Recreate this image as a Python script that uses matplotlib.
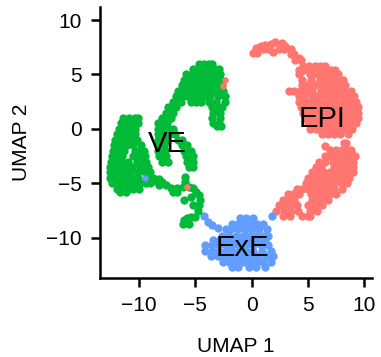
import numpy as np
import matplotlib
matplotlib.use("Agg")
import matplotlib.pyplot as plt

plt.rcParams['font.family'] = ['Liberation Sans', 'DejaVu Sans']

# cell positions, grouped in rows: (umap2, [umap1, ...])
epi_rows = [
    (8.0, [2.1]),
    (7.9, [2.7]),
    (7.8, [1.7]),
    (7.7, [1.2]),
    (7.6, [0.8, 3.0]),
    (7.4, [0.4]),
    (7.3, [1.0, 1.5, 2.4, 2.9, 3.5]),
    (7.1, [1.9]),
    (7.0, [0.1, 0.5]),
    (6.9, [3.5, 3.8]),
    (6.5, [4.2]),
    (6.3, [3.9, 4.4]),
    (5.8, [4.6, 5.1, 5.6, 6.1, 6.5]),
    (5.4, [4.2, 4.7, 5.2, 5.7, 6.2, 6.7, 7.1, 7.4]),
    (5.0, [4.2, 5.2, 5.8, 6.3, 6.8, 7.3, 7.7]),
    (4.5, [4.5, 5.3, 6.1, 6.6, 7.1, 7.6, 8.1]),
    (4.0, [4.5, 5.0, 5.6, 6.2, 6.8, 7.3, 7.8, 8.3]),
    (3.5, [3.3, 3.8, 4.3, 4.9, 5.4, 6.2, 6.7, 7.2, 7.8, 8.3, 8.8]),
    (3.0, [4.2, 4.7, 5.4, 5.9, 6.4, 7.0, 7.5, 8.0, 8.6, 9.1]),
    (2.5, [4.2, 4.8, 5.3, 5.9, 6.4, 7.0, 7.5, 8.1, 8.7, 9.3]),
    (2.0, [4.4, 4.9, 5.5, 6.0, 6.6, 7.1, 7.7, 8.3, 8.9, 9.5]),
    (1.5, [4.6, 5.1, 5.6, 6.2, 6.7, 7.3, 7.8, 8.4, 9.0, 9.5]),
    (1.0, [4.8, 5.3, 5.8, 6.4, 6.9, 7.4, 8.0, 8.5, 9.0, 9.5]),
    (0.5, [5.0, 5.5, 6.0, 6.5, 7.0, 7.6, 8.1, 8.7, 9.3]),
    (0.0, [5.2, 5.7, 6.3, 6.8, 7.3, 7.8, 8.4, 8.9]),
    (-0.5, [6.3, 6.8, 7.3, 7.9, 8.6]),
    (-1.3, [8.2, 8.4]),
    (-1.6, [6.5]),
    (-1.9, [7.0, 7.5, 8.0, 8.4, 8.8]),
    (-2.5, [6.5, 7.0, 7.6, 8.1, 8.7, 9.2]),
    (-3.0, [6.0, 6.5, 7.2, 7.8, 8.4, 9.0]),
    (-3.5, [5.7, 6.2, 7.3, 7.9, 8.5, 9.0]),
    (-4.0, [5.4, 5.9, 6.4, 7.0, 7.5, 8.0, 8.5, 9.0]),
    (-4.5, [5.0, 5.5, 6.1, 6.6, 7.2, 7.7, 8.2, 8.7]),
    (-5.0, [4.8, 5.3, 5.8, 6.4, 6.9, 7.4, 8.0, 8.5]),
    (-5.5, [4.0, 4.5, 5.0, 5.6, 6.1, 6.7, 7.3, 8.0]),
    (-6.0, [3.2, 3.7, 4.2, 5.3, 5.8, 6.4, 7.0, 7.5]),
    (-6.5, [2.8, 3.3, 3.8, 5.4, 5.9, 6.4, 6.8]),
    (-7.0, [2.4, 2.9, 3.4, 4.0, 5.0, 5.6, 6.3]),
    (-7.5, [2.2, 2.9, 3.5, 4.1, 5.2, 5.8]),
    (-8.0, [2.8, 3.4, 4.5, 5.0, 5.2]),
]
ve_rows = [
    (6.0, [-4.7, -4.2, -3.8, -3.5]),
    (5.5, [-5.2, -4.7, -4.2, -3.7, -3.3, -2.9]),
    (5.0, [-5.8, -5.3, -4.8, -4.3, -3.8, -3.3, -2.8]),
    (4.5, [-6.0, -5.5, -5.0, -4.5, -4.0, -3.5, -3.1, -2.7]),
    (4.0, [-6.2, -5.7, -5.2, -4.7, -4.2, -3.6, -3.1, -2.6]),
    (3.5, [-6.5, -6.0, -5.5, -5.0, -4.4, -3.9, -3.5, -3.0, -2.5]),
    (3.0, [-6.7, -6.2, -5.7, -5.2, -4.7, -4.2, -3.7, -3.0, -2.4]),
    (2.5, [-7.0, -6.6, -6.3, -5.4, -4.9, -4.5, -3.8, -3.2, -2.4]),
    (2.0, [-7.4, -7.0, -6.7, -3.5, -3.0, -2.6]),
    (1.5, [-7.6, -7.0, -3.4, -2.8]),
    (1.0, [-8.0, -7.5, -7.2, -3.5, -2.8]),
    (0.5, [-8.3, -7.9, -7.5, -3.4, -2.9]),
    (0.3, [-2.7, -3.1]),
    (0.0, [-8.3, -7.8, -7.3, -7.0]),
    (-0.5, [-8.3, -7.8, -7.3, -6.8]),
    (-1.0, [-8.3, -7.8, -7.5, -6.5, -6.2]),
    (-1.5, [-8.3, -7.8, -6.2, -5.7]),
    (-2.0, [-8.3, -7.7, -6.0, -5.4]),
    (-2.5, [-8.2, -7.6, -5.8, -5.2]),
    (-3.0, [-8.0, -7.4, -5.7, -5.2]),
    (-3.5, [-5.6, -5.2]),
    (-4.4, [-5.9]),
    (-4.9, [-5.9]),
    # left lobe
    (1.0, [-11.4, -10.9, -10.4, -10.1]),
    (0.5, [-11.6, -11.1, -10.6, -10.1]),
    (0.0, [-11.8, -11.3, -10.8, -10.4]),
    (-0.5, [-12.0, -11.5, -11.0, -10.4]),
    (-1.0, [-12.1, -11.6, -11.1, -10.6, -10.2]),
    (-1.5, [-12.2, -11.7, -11.1, -10.5, -9.8]),
    (-2.0, [-12.3, -11.8, -11.3, -10.4, -9.9, -9.6]),
    (-2.5, [-12.4, -11.9, -11.5, -10.5, -10.0, -9.5]),
    (-3.0, [-12.5, -12.0, -11.5, -11.0, -10.2, -9.8, -9.4]),
    (-3.5, [-12.6, -12.1, -11.6, -11.1, -10.6, -9.9, -9.5, -9.2]),
    (-4.0, [-12.6, -12.1, -11.6, -11.1, -10.6, -10.1, -9.5, -9.0]),
    (-4.5, [-12.6, -12.1, -11.6, -11.1, -10.6, -10.1, -9.1, -8.8]),
    (-5.0, [-12.4, -11.9, -11.4, -10.9, -10.4, -9.9, -9.4, -9.0]),
    (-5.5, [-12.0, -11.5, -11.0, -10.5, -10.0]),
    (-5.8, [-11.7, -11.2]),
    # band running down to the ExE trail
    (-4.6, [-8.6, -8.2]),
    (-4.8, [-8.5]),
    (-4.9, [-8.0]),
    (-5.2, [-8.2, -7.6]),
    (-5.4, [-7.2, -6.6, -5.2]),
    (-5.8, [-7.0, -6.6, -4.9]),
    (-5.3, [-6.1, -5.6]),
    (-6.1, [-4.7]),
    (-6.5, [-6.0, -4.6]),
    (-6.3, [-5.4]),
    (-7.0, [-4.7, -5.2]),
    (-7.5, [-4.8]),
    (-8.1, [-5.0, -5.4]),
    (-8.2, [-5.7]),
    (-8.4, [-6.0]),
    (-8.7, [-6.1, -5.6]),
]
exe_rows = [
    (-8.0, [-4.2, 1.8]),
    (-8.2, [-1.0, -0.5, 0.1]),
    (-8.6, [-3.9]),
    (-8.7, [-1.7, -1.2, -0.6, 0.0, 0.5, 1.0]),
    (-8.8, [-3.5]),
    (-9.1, [-3.0]),
    (-9.2, [-2.3, -1.8, -1.2, -0.6, 0.0, 0.7, 1.4]),
    (-9.8, [-2.6, -2.0, -1.4, -0.8, -0.2, 0.4, 1.0, 1.5]),
    (-10.2, [-3.4, -2.8, -2.2, -1.6, -1.0, -0.4, 0.2, 0.7, 1.2]),
    (-10.7, [-4.1, -3.5, -2.9, -2.3, -1.7, -1.1, -0.5, 0.1, 0.8, 1.5]),
    (-11.2, [-4.1, -3.5, -2.9, -2.3, -1.7, -1.1, -0.5, 0.1, 0.9, 1.7]),
    (-11.7, [-3.6, -3.0, -2.4, -1.8, -1.2, -0.6, 0.0, 0.6, 1.3, 1.9]),
    (-12.2, [-2.5, -2.0, -1.4, -0.8, -0.2, 0.4, 1.0, 1.7]),
    (-12.7, [-1.7, -1.2, -0.2, 0.4, 1.2]),
]
stray_epi_x = [-5.7, -2.4, -2.5]
stray_epi_y = [-5.3, 4.5, 3.9]
stray_exe_x = [-9.5]
stray_exe_y = [-4.5]

x_ticks = [-10, -5, 0, 5, 10]
y_ticks = [-10, -5, 0, 5, 10]
cluster_names = ['EPI', 'VE', 'ExE']
cluster_x = [6.3, -7.5, -0.8]
cluster_y = [0.95, -1.4, -10.9]


def unpack(rows):
    xs = [x for y, row in rows for x in row]
    ys = [y for y, row in rows for x in row]
    return xs, ys


fig = plt.figure(figsize=(3.81, 3.57), dpi=100)
ax = fig.add_axes([100 / 381, 79 / 357, 272 / 381, 271 / 357])

point_size = 36
red, green, blue = '#FF7570', '#00BA38', '#619CFF'
for rows, color in [(epi_rows, red), (exe_rows, blue), (ve_rows, green)]:
    xs, ys = unpack(rows)
    ax.scatter(xs, ys, s=point_size, c=color, linewidths=0)
ax.scatter(stray_epi_x, stray_epi_y, s=22, c=red, linewidths=0)
ax.scatter(stray_exe_x, stray_exe_y, s=22, c=blue, linewidths=0)

for name, x, y in zip(cluster_names, cluster_x, cluster_y):
    ax.text(x, y, name, fontsize=21, ha='center', va='center', color='black')

ax.set_xlim(-13.47, 10.7)
ax.set_ylim(-13.7, 11.2)
ax.set_xticks(x_ticks)
ax.set_yticks(y_ticks)
ax.set_xticklabels(['\u221210', '\u22125', '0', '5', '10'])
ax.set_yticklabels(['\u221210', '\u22125', '0', '5', '10'])
ax.tick_params(labelsize=15, width=1.8, length=6.5, pad=6.5)
ax.set_xlabel('UMAP 1', fontsize=15, labelpad=15.5)
ax.set_ylabel('UMAP 2', fontsize=15, labelpad=11)
for side in ['top', 'right']:
    ax.spines[side].set_visible(False)
for side in ['left', 'bottom']:
    ax.spines[side].set_linewidth(1.8)

fig.savefig('out.png', dpi=100)
